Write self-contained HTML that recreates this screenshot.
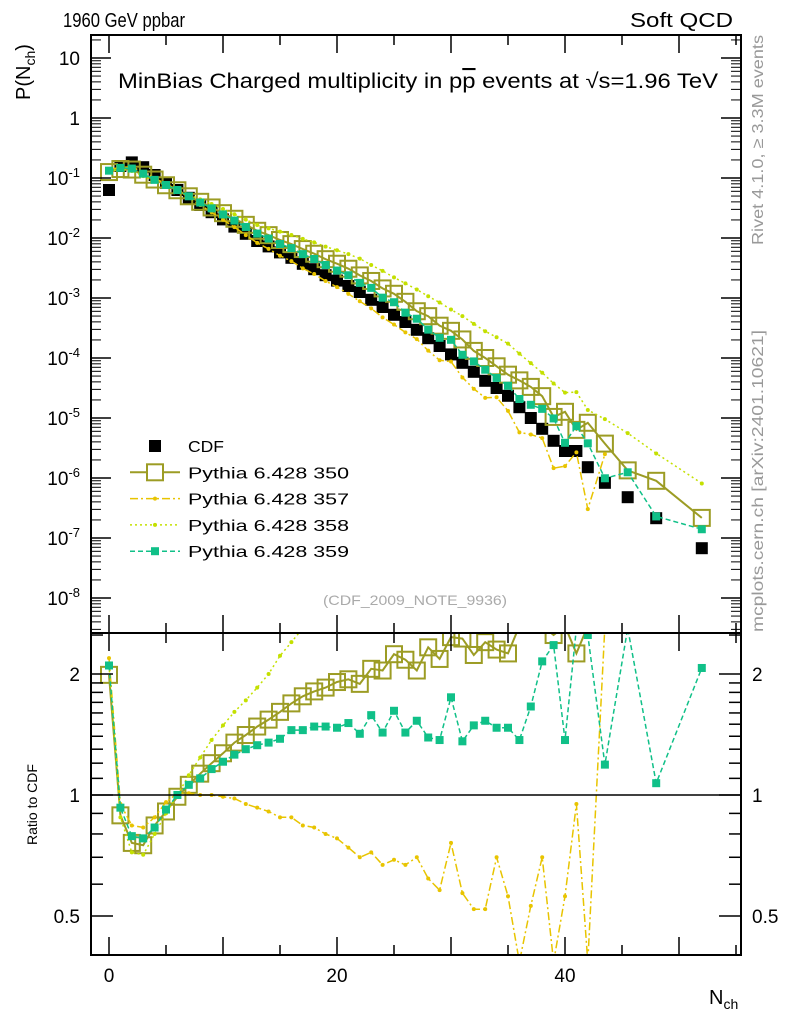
<!DOCTYPE html>
<html><head><meta charset="utf-8"><style>
html,body{margin:0;padding:0;background:#fff;overflow:hidden;width:786px;height:1024px;}
svg{display:block;font-family:"Liberation Sans",sans-serif;}
</style></head><body>
<svg id="chart" width="786" height="1024" viewBox="0 0 786 1024" xmlns="http://www.w3.org/2000/svg">
<text x="63" y="27" font-size="20" textLength="122" lengthAdjust="spacingAndGlyphs">1960 GeV ppbar</text>
<text x="630" y="27" font-size="20" textLength="103" lengthAdjust="spacingAndGlyphs">Soft QCD</text>
<text x="118" y="88" font-size="21" textLength="600" lengthAdjust="spacingAndGlyphs">MinBias Charged multiplicity in p<tspan text-decoration="overline">p</tspan> events at √s=1.96 TeV</text>
<text x="323" y="605" font-size="14" fill="#aaa" textLength="184" lengthAdjust="spacingAndGlyphs">(CDF_2009_NOTE_9936)</text>
<text transform="translate(763,245) rotate(-90)" font-size="16" fill="#999" textLength="210" lengthAdjust="spacingAndGlyphs">Rivet 4.1.0, ≥ 3.3M events</text>
<text transform="translate(763,632) rotate(-90)" font-size="16" fill="#999" textLength="302" lengthAdjust="spacingAndGlyphs">mcplots.cern.ch [arXiv:2401.10621]</text>
<text transform="translate(30,100) rotate(-90)" font-size="20">P(N<tspan font-size="14" dy="5">ch</tspan><tspan dy="-5">)</tspan></text>
<text transform="translate(37,845) rotate(-90)" font-size="14">Ratio to CDF</text>
<text x="709" y="1004" font-size="20">N<tspan font-size="14" dy="5">ch</tspan></text>
<g id="marks"></g>
<rect x="91" y="35" width="650" height="598" fill="none" stroke="#000" stroke-width="2"/>
<rect x="91" y="633" width="650" height="322" fill="none" stroke="#000" stroke-width="2"/>
<line x1="91" x2="741" y1="795" y2="795" stroke="#000" stroke-width="1.5"/>
<g id="axes"></g>
<g id="legend"></g>
</svg>
<script>
const nch = [0,1,2,3,4,5,6,7,8,9,10,11,12,13,14,15,16,17,18,19,20,21,22,23,24,25,26,27,28,29,30,31,32,33,34,35,36,37,38,39,40,41,42,43.5,45.5,48,52];
const cdfLog = [-1.2,-0.8,-0.74,-0.82,-0.95,-1.08,-1.2,-1.33,-1.45,-1.57,-1.69,-1.81,-1.93,-2.05,-2.14,-2.24,-2.33,-2.43,-2.52,-2.62,-2.71,-2.8,-2.9,-3.03,-3.15,-3.28,-3.4,-3.53,-3.67,-3.8,-3.94,-4.08,-4.23,-4.38,-4.5,-4.63,-4.82,-5.0,-5.18,-5.38,-5.55,-5.55,-5.82,-6.08,-6.32,-6.67,-7.17];
const ratio350 = [1.99,0.89,0.76,0.75,0.84,0.91,0.99,1.06,1.13,1.2,1.27,1.35,1.41,1.48,1.54,1.61,1.69,1.76,1.81,1.85,1.91,1.94,1.89,2.06,2.04,2.24,2.17,2.04,2.33,2.18,2.47,2.45,2.23,2.4,2.3,2.25,2.8,3.3,3.5,2.5,4.5,2.25,5.5,4.5,2.8,4.2,3.2];
const ratio357 = [2.19,0.95,0.84,0.83,0.88,0.96,1.01,1.01,1.0,1.0,0.99,0.98,0.95,0.93,0.91,0.88,0.88,0.84,0.83,0.8,0.78,0.74,0.70,0.72,0.67,0.69,0.67,0.7,0.62,0.58,0.76,0.57,0.52,0.52,0.70,0.56,0.38,0.53,0.70,0.35,0.56,0.95,0.2,3.0,null,null,null];
const ratio358 = [2.1,0.88,0.72,0.71,0.8,0.9,1.0,1.12,1.24,1.37,1.49,1.61,1.72,1.85,2.0,2.22,2.4,2.6,2.8,3.0,3.2,3.4,3.6,3.8,4.0,4.2,4.4,4.7,5.0,5.3,5.6,6.0,6.3,6.7,7.0,7.4,7.8,8.2,8.6,9.0,9.4,9.6,9.0,11.5,11.7,12,12];
const ratio359 = [2.1,0.93,0.79,0.78,0.83,0.92,1.0,1.06,1.1,1.16,1.21,1.26,1.3,1.33,1.35,1.38,1.45,1.45,1.48,1.48,1.47,1.51,1.42,1.58,1.43,1.62,1.43,1.53,1.39,1.37,1.75,1.36,1.49,1.53,1.47,1.47,1.37,1.66,2.15,2.36,1.37,2.6,2.5,1.19,2.6,1.07,2.07];
const yTickExp = [1,0,-1,-2,-3,-4,-5,-6,-7,-8];
const xTickLabels = [0,20,40];
const ratioTickLabels = [0.5,1,2];

const NS="http://www.w3.org/2000/svg";
const X = n => 109 + 11.4*n;
const YM = lg => 118 - 60*lg;
const YR = r => 795 - 402*Math.log10(r);
const clampM = y => Math.max(28, Math.min(640, y));
const clampR = y => Math.max(626, Math.min(962, y));
const marks = document.getElementById('marks');
const axes = document.getElementById('axes');
const legend = document.getElementById('legend');
function el(tag, attrs, parent){const e=document.createElementNS(NS,tag);for(const k in attrs)e.setAttribute(k,attrs[k]);parent.appendChild(e);return e;}

const defs = el('defs',{},marks);
const c1 = el('clipPath',{id:'clipM'},defs); el('rect',{x:91,y:35,width:650,height:598},c1);
const c2 = el('clipPath',{id:'clipR'},defs); el('rect',{x:91,y:633,width:650,height:322},c2);
const gM = el('g',{'clip-path':'url(#clipM)'},marks);


const gR = el('g',{'clip-path':'url(#clipR)'},marks);



const series = [
 {name:'pythia-350', ratio:ratio350, color:'#9c9c24', dash:'', width:2, marker:'open', size:16},
 {name:'pythia-357', ratio:ratio357, color:'#e8c400', dash:'8,3,2,3', width:1.5, marker:'dot', size:4},
 {name:'pythia-358', ratio:ratio358, color:'#c4e000', dash:'2,3', width:1.5, marker:'dot', size:4},
 {name:'pythia-359', ratio:ratio359, color:'#10c088', dash:'5,3', width:1.5, marker:'fill', size:8}
];

nch.forEach((n,i)=>{
  const r = el('rect',{x:X(n)-6,y:YM(cdfLog[i])-6,width:12,height:12,fill:'#000'},gM);
  
  
});

function drawSeries(s){
  let pm=[], pr=[];
  nch.forEach((n,i)=>{
    const r = s.ratio[i];
    if(r==null) return;
    const ym=YM(cdfLog[i]+Math.log10(r)), yr=YR(r);
    pm.push([X(n), clampM(ym), ym>=28&&ym<=640]);
    pr.push([X(n), clampR(yr), yr>=626&&yr<=962]);
  });
  [[pm,gM],[pr,gR]].forEach(([pts,g])=>{
    const pl = el('polyline',{points:pts.map(p=>p[0].toFixed(1)+','+p[1].toFixed(1)).join(' '),fill:'none',stroke:s.color,'stroke-width':s.width,'stroke-dasharray':s.dash},g);
    
    
    pts.forEach(p=>{
      if(!p[2]) return;
      let m;
      const h=s.size/2;
      if(s.marker==='open') m=el('rect',{x:p[0]-h,y:p[1]-h,width:s.size,height:s.size,fill:'none',stroke:s.color,'stroke-width':2},g);
      else if(s.marker==='fill') m=el('rect',{x:p[0]-h,y:p[1]-h,width:s.size,height:s.size,fill:s.color},g);
      else m=el('circle',{cx:p[0],cy:p[1],r:2,fill:s.color},g);
      
      
    });
  });
}
series.forEach(drawSeries);

yTickExp.forEach(e=>{
  const y=YM(e);
  [[91,111],[741,721]].forEach(([a,b])=>el('line',{x1:a,x2:b,y1:y,y2:y,stroke:'#000','stroke-width':1.5},axes));
  for(let k=2;k<=9;k++){const ym=YM(e-1+Math.log10(k)); if(ym>35&&ym<633){[[91,101],[741,731]].forEach(([a,b])=>el('line',{x1:a,x2:b,y1:ym,y2:ym,stroke:'#000','stroke-width':1},axes));}}
  const t=el('text',{x:80,y:y+7,'font-size':19,'text-anchor':'end'},axes);
  
  
  if(e===1) t.textContent='10';
  else if(e===0) t.textContent='1';
  else { t.textContent='10'; const sp=el('tspan',{'font-size':13,dy:-8},t); sp.textContent=String(e); }
});
for(let k=2;k<=9;k++){const ym=YM(1+Math.log10(k)); if(ym>35){[[91,101],[741,731]].forEach(([a,b])=>el('line',{x1:a,x2:b,y1:ym,y2:ym,stroke:'#000'},axes));}}
for(let n=0;n<=55;n+=5){
  const x=X(n); if(x>741) break;
  const len = n%10===0?18:10;
  [[35,35+len],[633,633-len],[633,633+len],[955,955-len]].forEach(([a,b])=>el('line',{x1:x,x2:x,y1:a,y2:b,stroke:'#000','stroke-width':1.5},axes));
}
xTickLabels.forEach(v=>{
  const t=el('text',{x:X(v),y:982,'font-size':19,'text-anchor':'middle'},axes);
  
  
  t.textContent=String(v);
});
[0.5,0.6,0.7,0.8,0.9,1,1.1,1.2,1.3,1.4,1.5,1.6,1.7,1.8,1.9,2,2.5].forEach(r=>{
  const y=YR(r); const major=(r===0.5||r===1||r===2);
  const len=major?22:12;
  [[91,91+len],[741,741-len]].forEach(([a,b])=>el('line',{x1:a,x2:b,y1:y,y2:y,stroke:'#000','stroke-width':1.5},axes));
});
ratioTickLabels.forEach(r=>{
  [[80,'end'],[752,'start']].forEach(([x,a])=>{
    const t=el('text',{x:x,y:YR(r)+7,'font-size':19,'text-anchor':a},axes);
    
    
    t.textContent=String(r);
  });
});

const legItems=[{label:'CDF',s:null,w:36},{label:'Pythia 6.428 350',s:series[0],w:161},{label:'Pythia 6.428 357',s:series[1],w:161},{label:'Pythia 6.428 358',s:series[2],w:161},{label:'Pythia 6.428 359',s:series[3],w:161}];
legItems.forEach((it,i)=>{
  const y=446+i*26.3;
  const g=el('g',{},legend);
  
  
  if(!it.s){ el('rect',{x:149,y:y-6,width:12,height:12,fill:'#000'},g); }
  else{
    const s=it.s;
    el('line',{x1:130,x2:180,y1:y,y2:y,stroke:s.color,'stroke-width':s.width,'stroke-dasharray':s.dash},g);
    if(s.marker==='open') el('rect',{x:147,y:y-8,width:16,height:16,fill:'#fff',stroke:s.color,'stroke-width':2},g);
    else if(s.marker==='fill') el('rect',{x:151,y:y-4,width:8,height:8,fill:s.color},g);
    else el('circle',{cx:155,cy:y,r:2,fill:s.color},g);
  }
  const t=el('text',{x:188,y:y+6,'font-size':16,textLength:it.w,lengthAdjust:'spacingAndGlyphs'},g);
  t.textContent=it.label;
});
</script>
</body></html>
